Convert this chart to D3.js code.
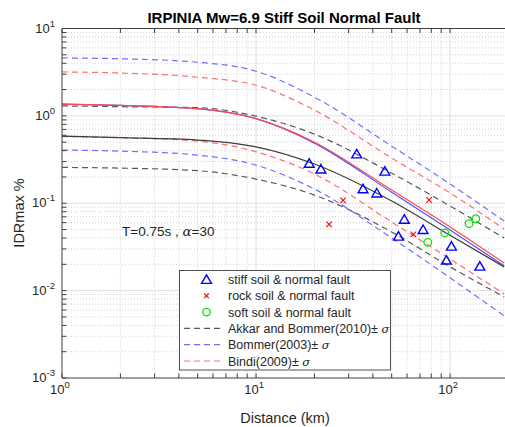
<!DOCTYPE html>
<html>
<head>
<meta charset="utf-8">
<script src="https://cdn.jsdelivr.net/npm/d3@7"></script>
<style>
  body { margin: 0; background: #fff; }
  svg { display: block; font-family: "Liberation Sans", Arial, Helvetica, sans-serif; }
</style>
</head>
<body>
<svg id="chart" width="505" height="427"></svg>
<script>
// distances (km) at which the model curves were read
const distances = [1, 2, 5, 10, 20, 50, 100, 190];

// Akkar and Bommer (2010)
const akkarMean  = [0.586, 0.563, 0.528, 0.442, 0.281, 0.106, 0.0430, 0.0187];
const akkarUpper = [1.301, 1.274, 1.241, 0.992, 0.618, 0.221, 0.0929, 0.0400];
const akkarLower = [0.257, 0.2525, 0.236, 0.189, 0.124, 0.0469, 0.0187, 0.00848];
// Bommer (2003)
const bommerMean  = [1.36, 1.318, 1.209, 0.929, 0.488, 0.134, 0.0494, 0.0192];
const bommerUpper = [4.60, 4.505, 4.109, 3.243, 1.636, 0.4505, 0.166, 0.0626];
const bommerLower = [0.4055, 0.395, 0.3555, 0.273, 0.145, 0.0400, 0.0140, 0.00514];
// Bindi (2009)
const bindiMean  = [1.36, 1.318, 1.209, 0.929, 0.500, 0.1415, 0.0535, 0.0207];
const bindiUpper = [3.184, 3.093, 2.769, 2.243, 1.162, 0.329, 0.131, 0.0507];
const bindiLower = [0.5785, 0.563, 0.514, 0.388, 0.216, 0.061, 0.0230, 0.00917];

// recorded IDRmax
const stiffDist = [18.8, 21.6, 33.0, 46.1, 35.6, 41.9, 58.1, 54.2, 72.6, 101.6, 95.7, 142.3];
const stiffIDR  = [0.278, 0.239, 0.356, 0.226, 0.142, 0.127, 0.0637, 0.0408, 0.0485, 0.0313, 0.0217, 0.0185];
const rockDist = [28.1, 23.8, 77.9, 64.7];
const rockIDR  = [0.108, 0.0574, 0.109, 0.0441];
const softDist = [135.6, 125.3, 93.9, 76.7];
const softIDR  = [0.0665, 0.0583, 0.0457, 0.0357];

const xTicks = [1, 10, 100];
const yTicks = [0.001, 0.01, 0.1, 1, 10];
const legendLabels = [
  "stiff soil & normal fault",
  "rock soil & normal fault",
  "soft soil & normal fault",
  "Akkar and Bommer(2010)\u00b1 ",
  "Bommer(2003)\u00b1 ",
  "Bindi(2009)\u00b1 "
];

const margin = { top: 28.5, left: 62, bottom: 378, right: 508.5 };
const svg = d3.select("#chart");

const x = d3.scaleLog().domain([1, 200]).range([margin.left, margin.right]);
const y = d3.scaleLog().domain([0.001, 10]).range([margin.bottom, margin.top]);

const axisColor = "#404040";
const colors = {
  blackDash: "#5a5a5a", blueDash: "#7070ff", redDash: "#ff7070",
  black: "#3c3c3c", blue: "#5050ff", red: "#ff4a4a"
};

svg.append("defs").append("clipPath").attr("id", "plot")
  .append("rect")
  .attr("x", margin.left).attr("y", margin.top)
  .attr("width", margin.right - margin.left)
  .attr("height", margin.bottom - margin.top);

// grid
const minorX = [], minorY = [];
[1, 10, 100].forEach(dec => { for (let k = 2; k <= 9; k++) if (dec * k <= 200) minorX.push(dec * k); });
[0.001, 0.01, 0.1, 1].forEach(dec => { for (let k = 2; k <= 9; k++) minorY.push(dec * k); });

const grid = svg.append("g");
grid.selectAll("line.mx").data(minorX).join("line")
  .attr("x1", d => x(d)).attr("x2", d => x(d))
  .attr("y1", margin.top).attr("y2", margin.bottom)
  .attr("stroke", "#d0d0d0").attr("stroke-dasharray", "1,2");
grid.selectAll("line.my").data(minorY).join("line")
  .attr("y1", d => y(d)).attr("y2", d => y(d))
  .attr("x1", margin.left).attr("x2", margin.right)
  .attr("stroke", "#d0d0d0").attr("stroke-dasharray", "1,2");
grid.selectAll("line.jx").data([10, 100]).join("line")
  .attr("x1", d => x(d)).attr("x2", d => x(d))
  .attr("y1", margin.top).attr("y2", margin.bottom)
  .attr("stroke", "#e0e0e0");
grid.selectAll("line.jy").data([0.01, 0.1, 1]).join("line")
  .attr("y1", d => y(d)).attr("y2", d => y(d))
  .attr("x1", margin.left).attr("x2", margin.right)
  .attr("stroke", "#e0e0e0");

// model curves
const line = d3.line()
  .x(d => x(d[0]))
  .y(d => y(d[1]))
  .curve(d3.curveMonotoneX);

const curves = [
  { values: akkarUpper, color: colors.blackDash, dash: "6,4" },
  { values: akkarLower, color: colors.blackDash, dash: "6,4" },
  { values: bommerUpper, color: colors.blueDash, dash: "6,4" },
  { values: bommerLower, color: colors.blueDash, dash: "6,4" },
  { values: bindiUpper, color: colors.redDash, dash: "6,4" },
  { values: bindiLower, color: colors.redDash, dash: "6,4" },
  { values: akkarMean, color: colors.black, dash: null },
  { values: bommerMean, color: colors.blue, dash: null },
  { values: bindiMean, color: colors.red, dash: null }
];

svg.append("g").attr("clip-path", "url(#plot)")
  .selectAll("path").data(curves).join("path")
  .attr("d", d => line(distances.map((r, i) => [r, d.values[i]])))
  .attr("fill", "none")
  .attr("stroke", d => d.color)
  .attr("stroke-width", 1.2)
  .attr("stroke-dasharray", d => d.dash);

// markers
const triangle = d3.symbol().type(d3.symbolTriangle).size(42);
const times = "M-2.8,-2.8L2.8,2.8M-2.8,2.8L2.8,-2.8";
const pts = svg.append("g");

pts.selectAll("path.stiff").data(stiffDist.map((r, i) => [r, stiffIDR[i]])).join("path")
  .attr("transform", d => `translate(${x(d[0])},${y(d[1])})`)
  .attr("d", triangle()).attr("fill", "none").attr("stroke", "#0000ff").attr("stroke-width", 1.4);
pts.selectAll("path.rock").data(rockDist.map((r, i) => [r, rockIDR[i]])).join("path")
  .attr("class", "rock")
  .attr("transform", d => `translate(${x(d[0])},${y(d[1])})`)
  .attr("d", times).attr("fill", "none").attr("stroke", "#ff0000").attr("stroke-width", 1.1);
pts.selectAll("circle").data(softDist.map((r, i) => [r, softIDR[i]])).join("circle")
  .attr("cx", d => x(d[0])).attr("cy", d => y(d[1])).attr("r", 3.8)
  .attr("fill", "none").attr("stroke", "#00e600").attr("stroke-width", 1.3);

// annotation
const note = svg.append("text").attr("x", 122).attr("y", 236)
  .attr("font-size", 13.5).attr("fill", "#262626");
note.append("tspan").text("T=0.75s , ");
note.append("tspan").attr("font-family", "DejaVu Serif, serif").attr("font-style", "italic").text("\u03b1");
note.append("tspan").text("=30");

// axes
const ax = svg.append("g").attr("stroke", axisColor).attr("fill", "none");
ax.append("line").attr("x1", margin.left).attr("x2", margin.left).attr("y1", margin.top).attr("y2", margin.bottom);
ax.append("line").attr("x1", margin.left).attr("x2", margin.right).attr("y1", margin.bottom).attr("y2", margin.bottom);
ax.append("line").attr("x1", margin.left).attr("x2", margin.right).attr("y1", margin.top).attr("y2", margin.top);
const tl = 4.5;
const allX = xTicks.concat(minorX);
const allY = yTicks.concat(minorY);
ax.selectAll("line.tb").data(allX).join("line")
  .attr("x1", d => x(d)).attr("x2", d => x(d))
  .attr("y1", margin.bottom).attr("y2", margin.bottom - tl);
ax.selectAll("line.tt").data(allX).join("line")
  .attr("x1", d => x(d)).attr("x2", d => x(d))
  .attr("y1", margin.top).attr("y2", margin.top + tl);
ax.selectAll("line.tly").data(allY).join("line")
  .attr("y1", d => y(d)).attr("y2", d => y(d))
  .attr("x1", margin.left).attr("x2", margin.left + tl);

// tick labels with superscripts
svg.selectAll("text.xt").data(xTicks).join("text")
  .attr("x", d => x(d) - 2).attr("y", 393.5)
  .attr("text-anchor", "middle").attr("font-size", 13).attr("fill", "#262626")
  .each(function (d) {
    const t = d3.select(this);
    t.append("tspan").text("10");
    t.append("tspan").attr("dy", -6).attr("font-size", 9.5).text(Math.round(Math.log10(d)));
  });
svg.selectAll("text.yt").data(yTicks).join("text")
  .attr("x", 55).attr("y", d => y(d) + 4)
  .attr("text-anchor", "end").attr("font-size", 13).attr("fill", "#262626")
  .each(function (d) {
    const t = d3.select(this);
    t.append("tspan").text("10");
    t.append("tspan").attr("dy", -6).attr("font-size", 9.5).text(Math.round(Math.log10(d)));
  });

// labels
svg.append("text").attr("x", 284).attr("y", 22.5).attr("text-anchor", "middle")
  .attr("font-size", 15).attr("font-weight", "bold").attr("fill", "#000")
  .text("IRPINIA Mw=6.9 Stiff Soil Normal Fault");
svg.append("text").attr("x", 285).attr("y", 423).attr("text-anchor", "middle")
  .attr("font-size", 14.5).attr("fill", "#262626").text("Distance (km)");
svg.append("text").attr("transform", "translate(24,213) rotate(-90)").attr("text-anchor", "middle")
  .attr("font-size", 14.5).attr("fill", "#262626").text("IDRmax %");

// legend
const lg = svg.append("g");
lg.append("rect").attr("x", 179.5).attr("y", 270.5).attr("width", 211).attr("height", 99.5)
  .attr("fill", "#fff").attr("stroke", "#262626").attr("stroke-width", 0.8);
const rowY = i => 279.5 + i * 16.3;
const rows = lg.selectAll("g.row").data(legendLabels).join("g");
rows.append("text").attr("x", 228).attr("y", (d, i) => rowY(i) + 4.5)
  .attr("font-size", 12.5).attr("fill", "#262626")
  .each(function (d, i) {
    const t = d3.select(this);
    t.append("tspan").text(d);
    if (i >= 3) t.append("tspan").attr("font-family", "DejaVu Serif, serif").attr("font-style", "italic").attr("font-size", 11.5).text("\u03c3");
  });
lg.append("path").attr("transform", `translate(206.5,${rowY(0) + 1})`).attr("d", triangle())
  .attr("fill", "none").attr("stroke", "#0000ff").attr("stroke-width", 1.4);
lg.append("path").attr("transform", `translate(206.5,${rowY(1)})`).attr("d", "M-2.3,-2.3L2.3,2.3M-2.3,2.3L2.3,-2.3")
  .attr("fill", "none").attr("stroke", "#ff0000").attr("stroke-width", 1.1);
lg.append("circle").attr("cx", 206.5).attr("cy", rowY(2)).attr("r", 3.8)
  .attr("fill", "none").attr("stroke", "#00e600").attr("stroke-width", 1.3);
[colors.blackDash, colors.blueDash, colors.redDash].forEach((c, j) => {
  lg.append("line").attr("x1", 184).attr("x2", 222).attr("y1", rowY(3 + j)).attr("y2", rowY(3 + j))
    .attr("stroke", c).attr("stroke-width", 1.2).attr("stroke-dasharray", "6,4");
});
</script>
</body>
</html>
